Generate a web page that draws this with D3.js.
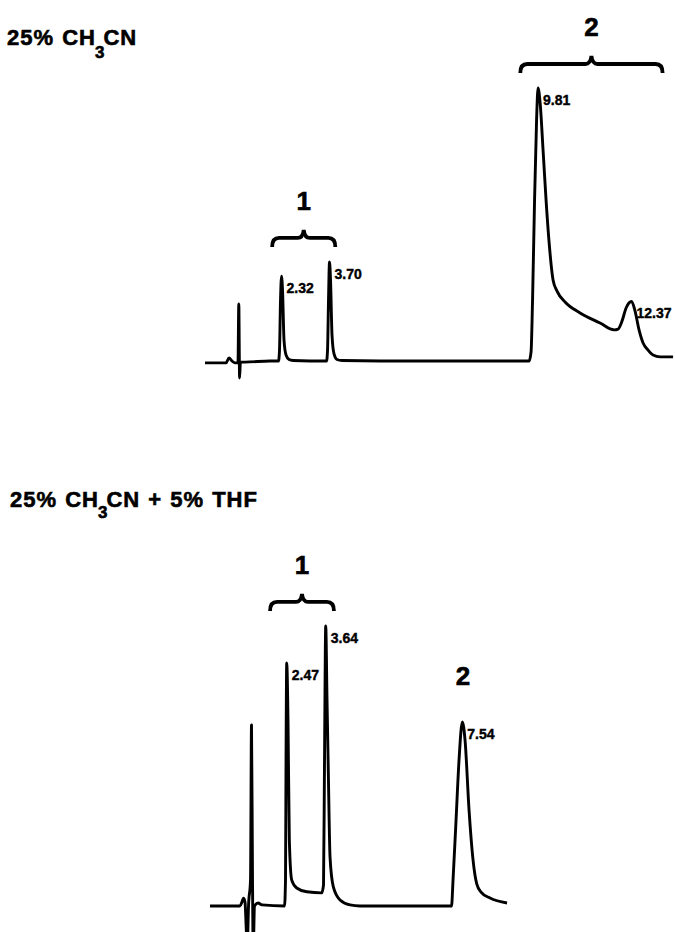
<!DOCTYPE html>
<html>
<head>
<meta charset="utf-8">
<script src="https://cdn.jsdelivr.net/npm/d3@7"></script>
<style>
  body { margin: 0; background: #fff; }
  svg text { font-family: "Liberation Sans", Arial, sans-serif; font-weight: bold; fill: #000; stroke: #000; }
</style>
</head>
<body>
<div id="chart"></div>
<script>

// trace 1: 25% CH3CN  (time in min, detector response, rel. units)
var topTime = [0.115, 0.72, 0.807, 0.893, 0.98, 1.066, 1.089, 1.112, 1.135, 1.268, 1.988,
  2.233, 2.262, 2.291, 2.32, 2.349, 2.392, 2.45, 2.536, 2.651, 3.141,
  3.617, 3.646, 3.674, 3.703, 3.732, 3.775, 3.833, 3.919, 4.063, 5.159, 7.176,
  9.452, 9.51, 9.553, 9.611, 9.669, 9.712, 9.769, 9.856, 9.942, 10.029, 10.144,
  10.259, 10.49, 10.922, 11.499, 11.902, 12.017, 12.133, 12.248, 12.406, 12.507,
  12.622, 12.738, 12.882, 13.026, 13.228, 13.602];
var topResp = [-0.7, -0.7, 1.1, 0, -0.7, -0.7, 20.9, -6.2, -0.4, -0.4, 0,
  0, 4.0, 22.3, 31.1, 26.0, 7.7, 2.2, 0.55, 0.18, 0,
  0, 4.0, 22.3, 36.3, 29.7, 9.5, 2.6, 0.55, 0.18, 0, 0,
  0, 3.3, 22.3, 59.0, 88.3, 100, 94.9, 77.3, 59.0, 43.6, 29.7,
  25.6, 21.6, 17.6, 13.9, 11.4, 11.7, 14.7, 19.4, 21.8, 18.3,
  11.4, 6.6, 4.0, 2.2, 1.5, 1.5];

// trace 2: 25% CH3CN + 5% THF
var botTime = [0.259, 1.124, 1.182, 1.225, 1.268, 1.305, 1.331, 1.369, 1.427, 1.455, 1.484,
  1.504, 1.542, 1.643, 1.758, 2.406, 2.435, 2.45, 2.47, 2.507, 2.545, 2.614, 2.758,
  3.046, 3.478, 3.53, 3.559, 3.594, 3.631, 3.669, 3.718, 3.813, 4.006, 4.294, 4.582,
  7.219, 7.262, 7.349, 7.435, 7.53, 7.608, 7.723, 7.839, 7.945, 8.069, 8.329, 8.818];
var botResp = [0, 0, 1.5, 2.9, 1.5, -8.8, -16, 0, 9.5, 66.3, 9.5,
  -16, 0, 1.1, 0.4, 0, 9.5, 53.5, 89.0, 68.1, 24.2, 9.5, 6.6,
  5.2, 4.8, 7.7, 53.5, 102.6, 75.5, 48.7, 17.9, 7.0, 2.2, 0.4, 0,
  0, 9.5, 31.5, 53.5, 67.4, 60.8, 35.2, 16.8, 8.1, 5.1, 2.9, 1.1];

// peak retention times printed on the trace
var topPeaks = [2.32, 3.70, 9.81, 12.37];
var botPeaks = [2.47, 3.64, 7.54];

// peak groups
var topGroupLabels = ["1", "2"];
var topGroupStart = [2.05, 9.2];
var topGroupEnd = [3.87, 13.3];
var topGroupBrace = [true, true];

var botGroupLabels = ["1", "2"];
var botGroupStart = [1.99, 7.3];
var botGroupEnd = [3.83, 7.8];
var botGroupBrace = [true, false];

var width = 675, height = 932;

var svg = d3.select("#chart").append("svg")
  .attr("width", width)
  .attr("height", height);

var x = d3.scaleLinear().domain([0, 13.6]).range([201, 673]);

function panel(title, times, resp, peaks, gLabels, gStart, gEnd, gBrace, baseY, titleX, titleY, subDy) {
  var y = d3.scaleLinear().domain([0, 100]).range([baseY, baseY - 273]);
  var pts = times.map(function(t, i) { return {t: t, r: resp[i]}; });

  var line = d3.line()
    .x(function(d) { return x(d.t); })
    .y(function(d) { return y(d.r); })
    .curve(d3.curveMonotoneX);

  svg.append("path")
    .datum(pts)
    .attr("d", line)
    .attr("fill", "none")
    .attr("stroke", "#000")
    .attr("stroke-width", 2.9)
    .attr("stroke-linejoin", "round");

  // apex near a given time
  function apex(t0, t1) {
    var inside = pts.filter(function(d) { return d.t >= t0 && d.t <= t1; });
    return d3.greatest(inside, function(d) { return d.r; });
  }

  svg.selectAll(null)
    .data(peaks)
    .enter().append("text")
    .attr("x", function(d) { return x(apex(d - 0.15, d + 0.15).t) + 5; })
    .attr("y", function(d) { return y(apex(d - 0.15, d + 0.15).r) + 17; })
    .attr("font-size", 14)
    .attr("stroke-width", 0.4)
    .text(function(d) { return d3.format(".2f")(d); });

  gLabels.forEach(function(lab, i) {
    var top = apex(gStart[i], gEnd[i]);
    var x1 = x(gStart[i]), x2 = x(gEnd[i]), xm = (x1 + x2) / 2;
    var labY;
    if (gBrace[i]) {
      var yb = y(top.r) - 24, h = 9, tip = 8, c = 7;
      var p = d3.path();
      p.moveTo(x1, yb + h);
      p.quadraticCurveTo(x1, yb, x1 + c, yb);
      p.lineTo(xm - 6, yb);
      p.quadraticCurveTo(xm - 1, yb, xm, yb - tip);
      p.quadraticCurveTo(xm + 1, yb, xm + 6, yb);
      p.lineTo(x2 - c, yb);
      p.quadraticCurveTo(x2, yb, x2, yb + h);
      svg.append("path")
        .attr("d", p.toString())
        .attr("fill", "none")
        .attr("stroke", "#000")
        .attr("stroke-width", 3.8);
      labY = yb - tip - 20;
    } else {
      labY = y(top.r) - 37;
    }
    svg.append("text")
      .attr("x", xm)
      .attr("y", labY)
      .attr("text-anchor", "middle")
      .attr("font-size", 26)
      .attr("stroke-width", 0.6)
      .text(lab);
  });

  var tt = svg.append("text")
    .attr("x", titleX)
    .attr("y", titleY)
    .attr("font-size", 22)
    .attr("stroke-width", 0.6)
    .attr("letter-spacing", 1)
    .attr("word-spacing", 1);
  tt.append("tspan").text(title[0]);
  tt.append("tspan").attr("font-size", 17).attr("dy", subDy).attr("dx", -1).text(title[1]);
  tt.append("tspan").attr("dy", -subDy).attr("dx", -2).text(title[2]);
}

panel(["25% CH", "3", "CN"], topTime, topResp, topPeaks,
  topGroupLabels, topGroupStart, topGroupEnd, topGroupBrace, 361, 7, 45, 13);
panel(["25% CH", "3", "CN + 5% THF"], botTime, botResp, botPeaks,
  botGroupLabels, botGroupStart, botGroupEnd, botGroupBrace, 906, 10, 507, 11);

</script>
</body>
</html>
